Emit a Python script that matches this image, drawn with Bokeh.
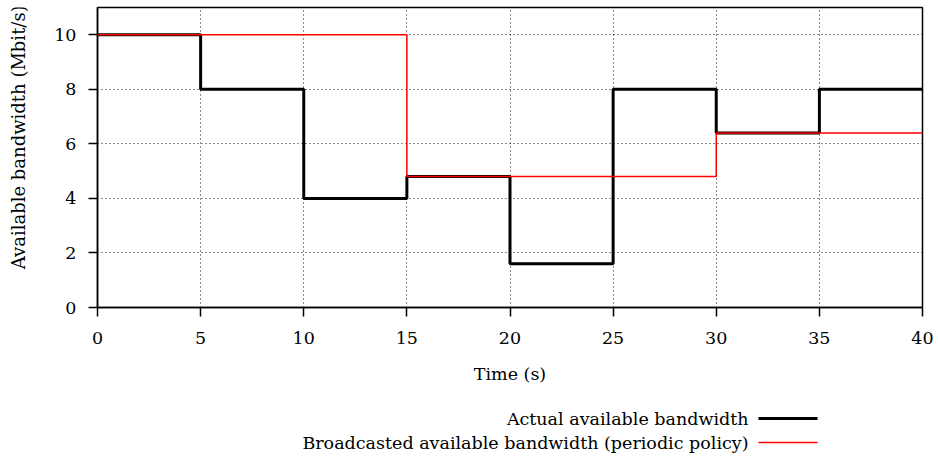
import math
from bokeh.plotting import figure
from bokeh.models import Range1d, FixedTicker
from bokeh.layouts import column, row
from bokeh.core.properties import value
from bokeh.embed import file_html
from bokeh.resources import INLINE

# ---- data ----
actual_t = [0, 5, 10, 15, 20, 25, 30, 35, 40]
actual_bw = [10, 8, 4, 4.8, 1.6, 8, 6.4, 8, 8]
broadcast_t = [0, 15, 30, 40]
broadcast_bw = [10, 4.8, 6.4, 6.4]
x_ticks = [0, 5, 10, 15, 20, 25, 30, 35, 40]
y_ticks = [0, 2, 4, 6, 8, 10]
legend_labels = ["Actual available bandwidth",
                 "Broadcasted available bandwidth (periodic policy)"]
y_title = "Available bandwidth (Mbit/s)"
x_title = "Time (s)"

FONT = "DejaVu Serif"
FS = "17.5px"
LEFT_W = 36
MAIN_H = 386

p = figure(width=938 - LEFT_W, height=MAIN_H, output_backend="svg",
           toolbar_location=None,
           x_range=Range1d(0, 40), y_range=Range1d(0, 11),
           min_border_left=97 - LEFT_W, min_border_right=16, min_border_top=7,
           min_border_bottom=10)

p.step(actual_t, actual_bw, mode="after", line_color="black", line_width=3)
p.step(broadcast_t, broadcast_bw, mode="after", line_color="#ff0000", line_width=1.5)

p.outline_line_color = "black"
p.outline_line_width = 1.5

for ax in (p.xaxis[0], p.yaxis[0]):
    ax.axis_line_color = "black"
    ax.axis_line_width = 1.5
    ax.major_tick_line_color = "black"
    ax.major_tick_line_width = 1.5
    ax.major_tick_in = 0
    ax.major_tick_out = 9
    ax.minor_tick_line_color = None
    ax.major_label_text_font = FONT
    ax.major_label_text_font_size = FS
    ax.major_label_text_color = "black"
    ax.axis_label_text_font = FONT
    ax.axis_label_text_font_size = FS
    ax.axis_label_text_font_style = "normal"
    ax.axis_label_text_color = "black"

p.xaxis.ticker = FixedTicker(ticks=x_ticks)
p.yaxis.ticker = FixedTicker(ticks=y_ticks)
p.xaxis.axis_label = x_title
p.xaxis.major_label_standoff = 15
p.xaxis.axis_label_standoff = 17
p.yaxis.major_label_standoff = 12

for g in (p.xgrid[0], p.ygrid[0]):
    g.grid_line_color = "black"
    g.grid_line_dash = "1 3"
    g.grid_line_width = 1
    g.grid_line_alpha = 0.9
p.xgrid.ticker = FixedTicker(ticks=x_ticks)
p.ygrid.ticker = FixedTicker(ticks=y_ticks)

# ---- y-axis title in a narrow strip on the left ----
yt = figure(width=LEFT_W, height=MAIN_H, output_backend="svg", toolbar_location=None,
            x_range=Range1d(0, LEFT_W), y_range=Range1d(0, MAIN_H),
            min_border=0, outline_line_color=None)
yt.axis.visible = False
yt.grid.visible = False
yt.text(x=[18], y=[MAIN_H - 167], text=[y_title], angle=math.pi / 2,
        text_align="center", text_baseline="middle",
        text_font=value(FONT), text_font_size="18px", text_color="black")

# ---- legend (text left of sample lines) ----
lg = figure(width=938, height=74, output_backend="svg", toolbar_location=None,
            x_range=Range1d(0, 938), y_range=Range1d(74, 0),
            min_border=0, outline_line_color=None)
lg.axis.visible = False
lg.grid.visible = False
lg.text(x=[748, 748], y=[32, 56], text=legend_labels,
        text_align="right", text_baseline="middle",
        text_font=value(FONT), text_font_size=FS, text_color="black")
lg.segment(x0=[758], y0=[32], x1=[817], y1=[32], line_color="black", line_width=3)
lg.segment(x0=[758], y0=[56], x1=[817], y1=[56], line_color="#ff0000", line_width=1.5)

layout = column(row(yt, p, spacing=0), lg, spacing=0)
open("out.html", "w").write(file_html(layout, INLINE))
